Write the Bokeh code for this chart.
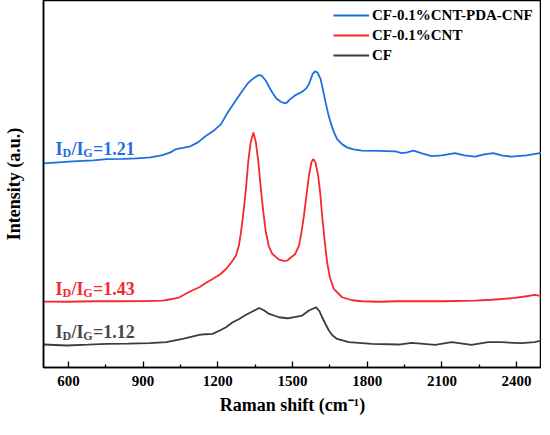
from bokeh.plotting import figure
from bokeh.models import Range1d, FixedTicker, Label, Legend, LegendItem
from bokeh.embed import file_html
from bokeh.resources import INLINE

# ---- data ----
shift_blue = [500, 560, 619, 700, 753, 820, 873, 930, 978, 1010, 1033, 1086, 1120, 1153, 1185, 1213,
              1240, 1258, 1280, 1299, 1320, 1339, 1362, 1375, 1393, 1405, 1419, 1435, 1453, 1470, 1479,
              1486, 1510, 1539, 1555, 1566, 1580, 1590, 1600, 1613, 1622, 1633, 1643, 1653, 1665, 1679,
              1700, 1719, 1745, 1779, 1850, 1913, 1939, 1960, 1986, 2020, 2059, 2100, 2153, 2190, 2233,
              2270, 2306, 2340, 2379, 2440, 2493, 2500]
int_blue = [205, 206, 207, 208, 209.3, 209.5, 210, 211, 213.3, 216, 219.3, 221.7, 226, 232.7, 238, 244.3,
            256, 262.7, 271, 277.7, 285, 289.3, 293.3, 293, 287.7, 282, 276, 270, 266.7, 265, 266,
            268.3, 273, 276.7, 280, 284.3, 294, 297, 296, 289.3, 279, 266, 255, 246, 237, 229.3,
            224, 221, 219, 217.7, 217.5, 217, 215.3, 216, 217.7, 215, 212.3, 213, 215.3, 213, 211.7,
            214, 215.3, 213, 211.7, 213, 215.3, 215.5]

shift_red = [500, 600, 700, 800, 900, 979, 1010, 1046, 1090, 1126, 1150, 1179, 1210, 1233, 1255, 1273,
             1285, 1293, 1303, 1313, 1322, 1332, 1343, 1353, 1363, 1373, 1383, 1393, 1405, 1419, 1446,
             1465, 1479, 1486, 1510, 1526, 1536, 1546, 1556, 1566, 1576, 1583, 1592, 1603, 1611, 1619,
             1629, 1639, 1650, 1666, 1699, 1740, 1779, 1850, 1920, 2019, 2100, 2233, 2300, 2393, 2440,
             2473, 2500]
int_red = [66.7, 66.5, 67, 67, 67.2, 67.7, 69, 71, 77, 81, 85, 89.3, 94, 99.3, 106, 112.7,
           123, 136, 156, 179.3, 206, 226, 236, 226, 206, 179.3, 156, 136, 122, 114.3, 108.7,
           107.5, 107.7, 109.3, 114, 122.7, 136, 152.7, 173, 192.7, 206, 209.3, 206, 192.7, 176, 152.7,
           128, 106, 91, 79.3, 71, 68, 67, 66.5, 67, 67, 67, 67.7, 68.5, 70.3, 72,
           73.3, 72]

shift_black = [500, 593, 680, 753, 840, 926, 993, 1059, 1126, 1150, 1179, 1210, 1233, 1260, 1286, 1310,
               1339, 1366, 1385, 1406, 1446, 1479, 1486, 1539, 1566, 1595, 1608, 1619, 1633, 1646, 1660,
               1679, 1726, 1819, 1926, 1979, 2073, 2139, 2219, 2286, 2339, 2419, 2473, 2500]
int_black = [23.7, 22.7, 23.5, 24.3, 24.5, 25, 26, 29.3, 33.3, 34, 34.3, 38, 41, 46, 49.3, 53,
             56.7, 60.3, 58, 54.3, 51, 50, 50, 52.7, 57.7, 61, 57, 51, 44, 37.7, 33,
             29.3, 26, 24.3, 23.7, 25.3, 23.3, 26, 23.3, 26, 26, 25, 26, 27.7]

series_names = ["CF-0.1%CNT-PDA-CNF", "CF-0.1%CNT", "CF"]
ratio_texts = ["=1.21", "=1.43", "=1.12"]
x_ticks = [600, 900, 1200, 1500, 1800, 2100, 2400]
x_minor = [750, 1050, 1350, 1650, 1950, 2250]

BLUE = "#1C6FE0"
RED = "#F5282D"
GRAY = "#3C3C3C"
SERIF = "Liberation Serif"

p = figure(frame_width=498, frame_height=367, output_backend="svg", toolbar_location=None,
           x_range=Range1d(500, 2500), y_range=Range1d(0.7, 368),
           min_border_left=36, min_border_right=0, min_border_top=0, min_border_bottom=10)
p.background_fill_color = "white"
p.border_fill_color = "white"
p.grid.visible = False
p.outline_line_color = "black"
p.outline_line_width = 1.5

r_blue = p.line(shift_blue, int_blue, line_color=BLUE, line_width=1.8)
r_red = p.line(shift_red, int_red, line_color=RED, line_width=1.8)
r_black = p.line(shift_black, int_black, line_color=GRAY, line_width=1.8)

# x axis
xa = p.xaxis[0]
xa.ticker = FixedTicker(ticks=x_ticks, minor_ticks=x_minor)
xa.axis_line_width = 1.5
xa.axis_line_color = "black"
xa.major_tick_in = 6
xa.major_tick_out = 0
xa.minor_tick_in = 3
xa.minor_tick_out = 0
xa.major_tick_line_width = 1.3
xa.minor_tick_line_width = 1.3
xa.major_label_text_font = SERIF
xa.major_label_text_font_style = "bold"
xa.major_label_text_font_size = "15px"
xa.major_label_text_color = "black"
xa.major_label_standoff = 8
xa.axis_label = "Raman shift (cm\u207b\u00b9)"
xa.axis_label_text_font = SERIF
xa.axis_label_text_font_style = "bold"
xa.axis_label_text_font_size = "18px"
xa.axis_label_text_color = "black"
xa.axis_label_standoff = 6

# y axis (no visible ticks or tick labels)
ya = p.yaxis[0]
ya.axis_line_width = 1.5
ya.axis_line_color = "black"
ya.major_tick_line_color = None
ya.minor_tick_line_color = None
ya.major_label_text_font_size = "0px"
ya.major_label_standoff = 0
ya.axis_label = "Intensity (a.u.)"
ya.axis_label_text_font = SERIF
ya.axis_label_text_font_style = "bold"
ya.axis_label_text_font_size = "18px"
ya.axis_label_text_color = "black"
ya.axis_label_standoff = 14

legend = Legend(items=[LegendItem(label=series_names[0], renderers=[r_blue]),
                       LegendItem(label=series_names[1], renderers=[r_red]),
                       LegendItem(label=series_names[2], renderers=[r_black])],
                location=(290, 302))
legend.border_line_color = None
legend.background_fill_alpha = 0
legend.padding = 0
legend.margin = 0
legend.spacing = 0
legend.glyph_width = 36
legend.glyph_height = 20
legend.label_height = 20
legend.label_standoff = 3
legend.label_text_font = SERIF
legend.label_text_font_style = "bold"
legend.label_text_font_size = "15px"
legend.label_text_color = "black"
p.add_layout(legend, "center")

# I_D/I_G annotations (pixel offsets converted to data units: 0.25 px per cm^-1, 1 px per unit)
def ratio_label(base_y, color, rtext):
    pieces = [("I", 0.0, 0, "18px"), ("D", 7.0, -4, "12px"), ("/I", 16.0, 0, "18px"),
              ("G", 28.0, -4, "12px"), (rtext, 37.7, 0, "18px")]
    x0 = 548
    for txt, dx, dy, fs in pieces:
        p.add_layout(Label(x=x0 + dx / 0.25, y=base_y + dy, text=txt, text_color=color,
                           text_font=SERIF, text_font_style="bold", text_font_size=fs,
                           text_baseline="alphabetic", text_align="left"))

ratio_label(219, BLUE, ratio_texts[0])
ratio_label(79.5, RED, ratio_texts[1])
ratio_label(36.7, "#454545", ratio_texts[2])

open("out.html", "w").write(file_html(p, INLINE))
